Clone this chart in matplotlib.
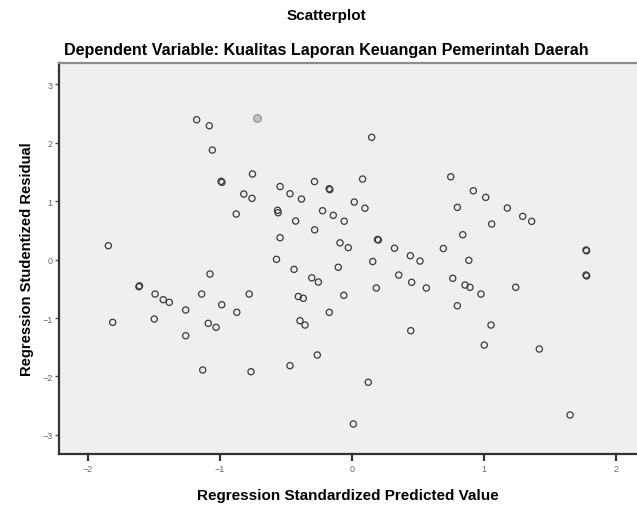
import matplotlib
matplotlib.use("Agg")
import matplotlib.pyplot as plt

# Regression standardized predicted value (x) and studentized residual (y)
pred = [
    -1.177, -1.081, -1.058, -0.992, -0.985, -0.754, -0.545, -0.470, -0.383, -0.284,
    -0.173, -0.168, 0.017, 0.080, -0.820, -0.758, -0.877, -0.564, -0.560, -0.427,
    -0.223, -0.142, -0.059, -0.283, -0.545, -0.091, -0.028, -0.572, -1.846, 0.149,
    0.748, 0.919, 1.013, 0.098, 0.798, 1.177, 1.293, 1.361, 1.058, 0.839,
    0.193, 0.200, 0.322, 0.692, 0.442, 0.515, 0.885, 1.773, 1.777, 0.157,
    -0.439, -0.305, -0.255, -0.104, 0.354, 0.452, 0.563, 0.184, 0.763, 0.856,
    0.894, 0.977, 1.240, 1.773, 1.777, -1.076, -1.614, -1.610, -1.492, -1.430,
    -1.384, -1.139, -0.987, -0.873, -0.779, -1.260, -1.813, -1.498, -1.089, -1.030,
    -1.260, -0.407, -0.369, -0.394, -0.356, -0.172, -0.062, 0.798, -0.263, -1.131,
    -0.765, -0.470, 0.445, 1.053, 1.002, 1.419, 0.123, 0.010, 1.652,
]
resid = [
    2.390, 2.287, 1.872, 1.337, 1.320, 1.462, 1.248, 1.125, 1.034, 1.333,
    1.210, 1.195, 0.983, 1.376, 1.120, 1.046, 0.778, 0.841, 0.800, 0.658,
    0.834, 0.756, 0.655, 0.508, 0.373, 0.285, 0.203, 0.003, 0.236, 2.089,
    1.415, 1.176, 1.063, 0.877, 0.892, 0.880, 0.738, 0.653, 0.607, 0.424,
    0.342, 0.335, 0.193, 0.188, 0.065, -0.026, -0.014, 0.162, 0.150, -0.034,
    -0.168, -0.313, -0.385, -0.133, -0.265, -0.390, -0.487, -0.487, -0.321, -0.436,
    -0.475, -0.590, -0.475, -0.265, -0.280, -0.248, -0.465, -0.450, -0.590, -0.687,
    -0.732, -0.590, -0.773, -0.903, -0.590, -0.863, -1.074, -1.017, -1.091, -1.159,
    -1.303, -0.632, -0.663, -1.046, -1.120, -0.903, -0.612, -0.790, -1.632, -1.889,
    -1.918, -1.815, -1.217, -1.120, -1.462, -1.530, -2.099, -2.812, -2.658,
]
# one case drawn highlighted (grey) in the original output
hl_pred = [-0.722]
hl_resid = [2.414]

xticks = [-2, -1, 0, 1, 2]
yticks = [-3, -2, -1, 0, 1, 2, 3]

plt.rcParams["font.family"] = ["Liberation Sans", "DejaVu Sans"]

fig = plt.figure(figsize=(6.37, 5.06), dpi=100)
ax = fig.add_axes([0.0934, 0.1008, 0.9066, 0.7727])
ax.set_facecolor("#efefef")

ax.scatter(pred, resid, s=20, facecolors="none", edgecolors="#3a3a3a",
           linewidths=0.9, zorder=3)
ax.scatter(hl_pred, hl_resid, s=30, facecolors="#c4c4c4", edgecolors="#9a9a9a",
           linewidths=1.0, zorder=3)

ax.set_xlim(-2.216, 2.159)
ax.set_ylim(-3.325, 3.36)
ax.set_xticks(xticks)
ax.set_yticks(yticks)

for side in ["left", "bottom"]:
    ax.spines[side].set_color("#333333")
    ax.spines[side].set_linewidth(1.6)
ax.spines["top"].set_color("#8c8c8c")
ax.spines["top"].set_linewidth(1.6)
ax.spines["right"].set_visible(False)

ax.tick_params(axis="x", direction="out", length=5, width=1.6, color="#333333",
               labelsize=6.5, labelcolor="#666666", pad=2)
ax.tick_params(axis="y", direction="out", length=3, width=1.0, color="#555555",
               labelsize=6.5, labelcolor="#666666", pad=2)

ax.set_xlabel("Regression Standardized Predicted Value", fontsize=11,
              fontweight="bold", labelpad=11)
ax.set_ylabel("Regression Studentized Residual", fontsize=10.6,
              fontweight="bold", labelpad=6)

fig.text(0.513, 0.968, "Scatterplot", ha="center", va="center",
         fontsize=11, fontweight="bold")
fig.text(0.513, 0.901,
         "Dependent Variable: Kualitas Laporan Keuangan Pemerintah Daerah",
         ha="center", va="center", fontsize=11.6, fontweight="bold")

fig.savefig("out.png", dpi=100, facecolor="white")
